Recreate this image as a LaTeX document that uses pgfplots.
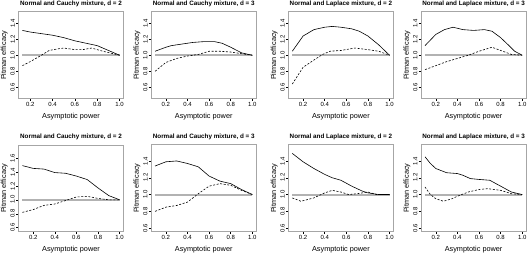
\documentclass[border=0pt]{standalone}
\usepackage{pgfplots}
\pgfplotsset{compat=1.18}
\usepackage{fontspec}
\setmainfont{Liberation Sans}
\pgfplotsset{
  panel/.style={
    scale only axis, width=105pt, height=86.5pt, anchor=south west,
    axis line style={gray!70, line width=1pt},
    tick align=outside, major tick length=2.5pt,
    major tick style={black, line width=0.5pt},
    xtick={0.2,0.4,0.6,0.8,1.0},
    xtick pos=bottom, ytick pos=left,
    /pgf/number format/assume math mode=true,
    /pgf/number format/.cd, fixed, fixed zerofill, precision=1, /pgfplots/.cd,
    tick label style={font=\fontsize{6}{7}\selectfont},
    yticklabel style={rotate=90, anchor=south, inner sep=1pt},
    xticklabel style={inner sep=1.5pt},
    every axis title shift=0pt,
    title style={font=\fontsize{6.3}{7}\selectfont\bfseries, at={(axis description cs:0.5,1.098)}, anchor=center},
    xlabel style={font=\fontsize{7.3}{8}\selectfont, at={(axis description cs:0.5,-0.205)}, anchor=center},
    ylabel style={font=\fontsize{7.3}{8}\selectfont, at={(axis description cs:-0.135,0.5)}, anchor=center, rotate=0},
    xlabel={Asymptotic power}, ylabel={Pitman efficacy},
    clip=false,
  },
  solidl/.style={black, line width=0.6pt},
  dashl/.style={black, line width=0.6pt, dash pattern=on 2pt off 1.6pt},
  refl/.style={gray!60, line width=2pt},
}
\begin{document}
\begin{tikzpicture}[x=1pt,y=1pt]
\useasboundingbox (0,0) rectangle (527,252);
% ---------- top row ----------
\begin{axis}[panel, at={(18.5pt,153.5pt)}, xmin=0.095, xmax=1.035, ymin=0.46, ymax=1.54,
  ytick={0.6,0.8,1.0,1.2,1.4}, title={Normal and Cauchy mixture, d = 2}]
\addplot[refl] coordinates {(0.13,1) (1,1)};
\addplot[solidl] coordinates {(0.13,1.31) (0.2,1.29) (0.3,1.27) (0.4,1.25) (0.5,1.22) (0.6,1.18) (0.7,1.15) (0.8,1.12) (0.9,1.06) (1.0,1.0)};
\addplot[dashl] coordinates {(0.13,0.87) (0.2,0.92) (0.3,1.00) (0.37,1.06) (0.45,1.08) (0.5,1.09) (0.6,1.07) (0.67,1.07) (0.75,1.09) (0.85,1.05) (1.0,1.0)};
\end{axis}
\begin{axis}[panel, at={(151.2pt,153.5pt)}, xmin=0.064, xmax=1.036, ymin=0.46, ymax=1.54,
  ytick={0.6,0.8,1.0,1.2,1.4}, title={Normal and Cauchy mixture, d = 3}]
\addplot[refl] coordinates {(0.1,1) (1,1)};
\addplot[solidl] coordinates {(0.1,1.05) (0.2,1.10) (0.25,1.12) (0.35,1.14) (0.45,1.16) (0.55,1.17) (0.65,1.17) (0.72,1.15) (0.8,1.10) (0.9,1.03) (1.0,1.0)};
\addplot[dashl] coordinates {(0.1,0.80) (0.2,0.91) (0.3,0.96) (0.4,0.99) (0.5,1.01) (0.6,1.05) (0.7,1.05) (0.8,1.04) (0.9,1.02) (1.0,1.0)};
\end{axis}
\begin{axis}[panel, at={(288.4pt,153.5pt)}, xmin=0.064, xmax=1.036, ymin=0.46, ymax=1.54,
  ytick={0.6,0.8,1.0,1.2,1.4}, title={Normal and Laplace mixture, d = 2}]
\addplot[refl] coordinates {(0.1,1) (1,1)};
\addplot[solidl] coordinates {(0.1,1.05) (0.2,1.24) (0.3,1.32) (0.4,1.35) (0.47,1.36) (0.55,1.35) (0.65,1.33) (0.72,1.30) (0.8,1.24) (0.9,1.13) (1.0,1.0)};
\addplot[dashl] coordinates {(0.1,0.64) (0.2,0.85) (0.3,0.94) (0.38,1.01) (0.45,1.05) (0.55,1.06) (0.68,1.09) (0.8,1.07) (0.9,1.05) (1.0,1.0)};
\end{axis}
\begin{axis}[panel, at={(421.1pt,153.5pt)}, xmin=0.064, xmax=1.036, ymin=0.46, ymax=1.54,
  ytick={0.6,0.8,1.0,1.2,1.4}, title={Normal and Laplace mixture, d = 3}]
\addplot[refl] coordinates {(0.1,1) (1,1)};
\addplot[solidl] coordinates {(0.1,1.12) (0.2,1.26) (0.28,1.32) (0.36,1.35) (0.45,1.32) (0.55,1.31) (0.65,1.32) (0.72,1.30) (0.8,1.22) (0.87,1.13) (0.93,1.05) (1.0,1.0)};
\addplot[dashl] coordinates {(0.1,0.82) (0.2,0.87) (0.3,0.92) (0.4,0.96) (0.5,1.0) (0.6,1.05) (0.72,1.10) (0.8,1.06) (0.9,1.01) (1.0,1.0)};
\end{axis}
% ---------- bottom row ----------
\begin{axis}[panel, at={(18.5pt,20.5pt)}, xmin=0.064, xmax=1.036, ymin=0.546, ymax=1.785,
  ytick={0.6,0.8,1.0,1.2,1.4,1.6}, title={Normal and Cauchy mixture, d = 2}]
\addplot[refl] coordinates {(0.1,1) (1,1)};
\addplot[solidl] coordinates {(0.1,1.49) (0.2,1.45) (0.3,1.44) (0.4,1.39) (0.5,1.38) (0.6,1.34) (0.7,1.29) (0.8,1.17) (0.9,1.06) (1.0,1.0)};
\addplot[dashl] coordinates {(0.1,0.82) (0.2,0.86) (0.3,0.92) (0.4,0.94) (0.5,0.99) (0.6,1.04) (0.7,1.05) (0.8,1.02) (0.9,1.00) (1.0,1.0)};
\end{axis}
\begin{axis}[panel, at={(151.2pt,20.5pt)}, xmin=0.064, xmax=1.036, ymin=0.56, ymax=1.59,
  ytick={0.6,0.8,1.0,1.2,1.4}, title={Normal and Cauchy mixture, d = 3}]
\addplot[refl] coordinates {(0.1,1) (1,1)};
\addplot[solidl] coordinates {(0.1,1.34) (0.2,1.39) (0.3,1.40) (0.4,1.37) (0.5,1.33) (0.6,1.22) (0.7,1.16) (0.8,1.13) (0.9,1.06) (1.0,1.0)};
\addplot[dashl] coordinates {(0.1,0.80) (0.2,0.85) (0.3,0.87) (0.4,0.91) (0.5,1.01) (0.6,1.10) (0.7,1.13) (0.8,1.11) (0.9,1.05) (1.0,1.0)};
\end{axis}
\begin{axis}[panel, at={(288.4pt,20.5pt)}, xmin=0.064, xmax=1.036, ymin=0.56, ymax=1.59,
  ytick={0.6,0.8,1.0,1.2,1.4}, title={Normal and Laplace mixture, d = 2}]
\addplot[refl] coordinates {(0.1,1) (1,1)};
\addplot[solidl] coordinates {(0.1,1.49) (0.2,1.39) (0.3,1.31) (0.4,1.24) (0.47,1.20) (0.55,1.17) (0.65,1.10) (0.75,1.04) (0.8,1.02) (0.9,1.0) (1.0,1.0)};
\addplot[dashl] coordinates {(0.1,0.96) (0.18,0.92) (0.3,0.96) (0.4,1.02) (0.47,1.05) (0.55,1.03) (0.62,1.0) (0.7,1.01) (0.8,1.03) (0.88,1.0) (1.0,1.0)};
\end{axis}
\begin{axis}[panel, at={(421.1pt,20.5pt)}, xmin=0.064, xmax=1.036, ymin=0.56, ymax=1.59,
  ytick={0.6,0.8,1.0,1.2,1.4}, title={Normal and Laplace mixture, d = 3}]
\addplot[refl] coordinates {(0.1,1) (1,1)};
\addplot[solidl] coordinates {(0.1,1.45) (0.15,1.37) (0.2,1.31) (0.3,1.26) (0.4,1.25) (0.45,1.23) (0.52,1.19) (0.6,1.18) (0.7,1.17) (0.8,1.10) (0.9,1.03) (1.0,1.0)};
\addplot[dashl] coordinates {(0.1,1.09) (0.15,1.0) (0.2,0.95) (0.27,0.92) (0.35,0.95) (0.4,0.98) (0.5,1.03) (0.6,1.06) (0.68,1.07) (0.8,1.05) (0.9,1.01) (1.0,1.0)};
\end{axis}
\end{tikzpicture}
\end{document}
